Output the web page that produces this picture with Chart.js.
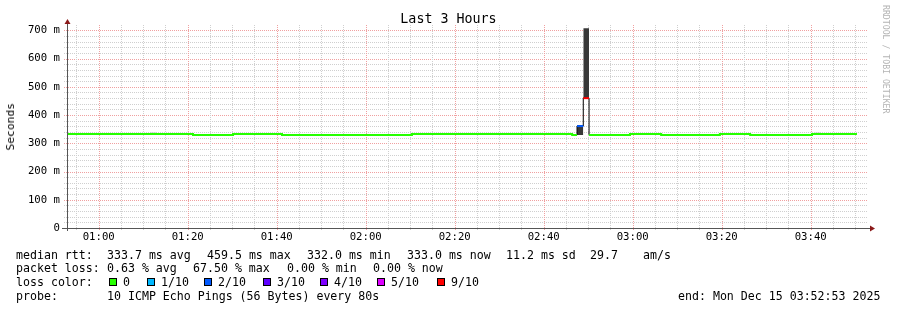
<!DOCTYPE html>
<html>
<head>
<meta charset="utf-8">
<script src="https://cdn.jsdelivr.net/npm/chart.js@4/dist/chart.umd.min.js"></script>
<style>
  body { margin: 0; background: #fff; }
  #wrap { position: relative; width: 897px; height: 310px; font-family: "DejaVu Sans Mono", monospace; color: #000; }
  #wrap div, #wrap span { position: absolute; white-space: pre; }
  .t { font-size: 11.6px; }
  .box { width: 8px; height: 8px; box-sizing: border-box; border: 1px solid #000; }
</style>
</head>
<body>
<div id="wrap">
  <canvas id="c" width="897" height="310"></canvas>
  <div style="left:0;width:897px;top:11px;text-align:center;font-size:13.33px;">Last 3 Hours</div>
  <div style="left:4px;top:103px;font-size:11.3px;writing-mode:vertical-rl;transform:rotate(180deg);">Seconds</div>
  <div style="left:881px;top:5px;font-size:8.2px;color:#b4b4b4;writing-mode:vertical-rl;">RRDTOOL / TOBI OETIKER</div>
</div>
<script>
// time in minutes after midnight, window 00:52:53 .. 03:52:53
const xMin = 52 + 53 / 60;
const xMax = xMin + 180;

const timeTicks = [60, 80, 100, 120, 140, 160, 180, 200, 220];
const timeLabels = ['01:00', '01:20', '01:40', '02:00', '02:20', '02:40', '03:00', '03:20', '03:40'];
const valueTicks = [0, 100, 200, 300, 400, 500, 600, 700];
const valueLabels = ['0', '100 m', '200 m', '300 m', '400 m', '500 m', '600 m', '700 m'];

// median rtt (ms) per segment, segment boundaries in minutes
const segTimes = [52.88, 81.2, 90.2, 101.2, 130.4, 166.4, 167.5, 168.9, 170.2, 179.4, 186.4, 199.6, 206.4, 220.3, 230.4];
const medianMs = [333, 329.5, 333, 329.5, 333, 329.5, 361, 460, 329.5, 333, 329.5, 333, 329.5, 333];
const lossOf10 = [0, 0, 0, 0, 0, 0, 2, 9, 0, 0, 0, 0, 0, 0];

// smoke (ping spread) blocks
const smokeFrom = [71.5, 167.5, 168.9, 221.0];
const smokeTo = [73.1, 168.9, 170.2, 222.3];
const smokeLow = [333, 329, 460, 333];
const smokeHigh = [338, 364, 708, 338];

const lossLevels = [0, 1, 2, 3, 4, 5, 9];
const lossNames = ['0', '1/10', '2/10', '3/10', '4/10', '5/10', '9/10'];

const rttStats = ['333.7 ms avg', '459.5 ms max', '332.0 ms min', '333.0 ms now', '11.2 ms sd', '29.7', 'am/s'];
const lossStats = ['0.63 % avg', '67.50 % max', '0.00 % min', '0.00 % now'];
const probeText = '10 ICMP Echo Pings (56 Bytes) every 80s';
const endText = 'end: Mon Dec 15 03:52:53 2025';

// styles
const lossColors = { 0: '#26ff00', 1: '#00b8ff', 2: '#0059ff', 3: '#5e00ff', 4: '#7e00ff', 5: '#dd00ff', 9: '#ff0000' };
const smokeColors = ['#c4c4c4', '#383838', '#383838', '#c4c4c4'];
const rttX = [107, 207, 307, 407, 506, 590, 643];
const lossX = [107, 193, 287, 373];
const boxX = [109, 147, 204, 263, 320, 377, 437];
const rowTop = [247.7, 261.2, 275.2, 288.5];

function stepPoints(keep) {
  const pts = [];
  for (let i = 0; i < medianMs.length; i++) {
    if (!keep(i)) continue;
    if (pts.length && !keep(i - 1)) pts.push({ x: segTimes[i] - 0.01, y: null });
    pts.push({ x: segTimes[i], y: medianMs[i] });
    if (i === medianMs.length - 1 || !keep(i + 1)) pts.push({ x: segTimes[i + 1], y: medianMs[i] });
  }
  return pts;
}

const datasets = [];
lossLevels.forEach(l => {
  if (!lossOf10.includes(l)) return;
  datasets.push({
    data: stepPoints(i => lossOf10[i] === l),
    borderColor: lossColors[l], borderWidth: 2, stepped: 'before',
    pointRadius: 0, fill: false, spanGaps: false, order: 0, borderCapStyle: 'butt'
  });
});
datasets.push({
  data: stepPoints(() => true),
  borderColor: '#000', borderWidth: 1, stepped: 'before',
  pointRadius: 0, fill: false, order: 1
});
smokeFrom.forEach((f, i) => {
  datasets.push({
    data: [{ x: f, y: smokeHigh[i] }, { x: smokeTo[i], y: smokeHigh[i] }],
    borderWidth: 0, pointRadius: 0, backgroundColor: smokeColors[i],
    fill: { value: smokeLow[i] }, order: 2
  });
});

const gridPlugin = {
  id: 'rrdgrid',
  beforeDatasetsDraw(chart) {
    const { ctx, chartArea: a, scales: { x, y } } = chart;
    ctx.save();
    ctx.lineWidth = 1;
    ctx.setLineDash([1, 1]);
    for (let v = 20; v <= 700; v += 20) {
      const py = Math.round(y.getPixelForValue(v)) + 0.5;
      ctx.strokeStyle = v % 100 === 0 ? '#f0a0a0' : '#cfcfcf';
      ctx.beginPath(); ctx.moveTo(a.left - 3, py); ctx.lineTo(a.right, py); ctx.stroke();
    }
    for (let m = Math.ceil(xMin / 5) * 5; m < xMax; m += 5) {
      const px = Math.round(x.getPixelForValue(m)) + 0.5;
      ctx.strokeStyle = m % 20 === 0 ? '#f0a0a0' : '#cfcfcf';
      ctx.beginPath(); ctx.moveTo(px, a.top - 2); ctx.lineTo(px, a.bottom + 2); ctx.stroke();
    }
    ctx.restore();
  },
  afterDatasetsDraw(chart) {
    const { ctx, chartArea: a } = chart;
    const lx = a.left + 0.5, by = a.bottom + 0.5;
    ctx.save();
    ctx.strokeStyle = '#555';
    ctx.lineWidth = 1;
    ctx.beginPath();
    ctx.moveTo(lx, a.bottom + 3); ctx.lineTo(lx, a.top - 3);
    ctx.moveTo(a.left - 5, by); ctx.lineTo(a.right + 2, by);
    ctx.stroke();
    ctx.fillStyle = '#8b1a1a';
    ctx.beginPath();
    ctx.moveTo(lx, a.top - 8); ctx.lineTo(lx - 3, a.top - 3); ctx.lineTo(lx + 3, a.top - 3); ctx.closePath(); ctx.fill();
    ctx.beginPath();
    ctx.moveTo(a.right + 7, by); ctx.lineTo(a.right + 2, by - 3); ctx.lineTo(a.right + 2, by + 3); ctx.closePath(); ctx.fill();
    ctx.restore();
  }
};

Chart.defaults.font.family = '"DejaVu Sans Mono", monospace';
Chart.defaults.font.size = 10.67;
Chart.defaults.color = '#000';

new Chart(document.getElementById('c'), {
  type: 'line',
  data: { datasets },
  options: {
    responsive: false,
    animation: false,
    devicePixelRatio: 1,
    layout: { padding: { left: 0, top: 27, right: 29, bottom: 0 } },
    plugins: { legend: { display: false }, tooltip: { enabled: false } },
    scales: {
      x: {
        type: 'linear', min: xMin, max: xMax,
        grid: { display: false, drawTicks: false },
        border: { display: false },
        afterBuildTicks: s => { s.ticks = timeTicks.map(v => ({ value: v })); },
        afterFit: s => { s.height = 82; },
        ticks: {
          autoSkip: false, maxRotation: 0, padding: 3,
          callback: v => timeLabels[timeTicks.indexOf(v)]
        }
      },
      y: {
        type: 'linear', min: 0, max: 712,
        grid: { display: false, drawTicks: false },
        border: { display: false },
        afterBuildTicks: s => { s.ticks = valueTicks.map(v => ({ value: v })); },
        afterFit: s => { s.width = 67; },
        ticks: {
          padding: 7,
          callback: v => valueLabels[valueTicks.indexOf(v)]
        }
      }
    }
  },
  plugins: [gridPlugin]
});

// legend text under the graph
const wrap = document.getElementById('wrap');
function put(text, x, top) {
  const d = document.createElement('div');
  d.className = 't';
  d.textContent = text;
  d.style.left = x + 'px';
  d.style.top = top + 'px';
  wrap.appendChild(d);
  return d;
}
put('median rtt:', 16, rowTop[0]);
rttStats.forEach((s, i) => put(s, rttX[i], rowTop[0]));
put('packet loss:', 16, rowTop[1]);
lossStats.forEach((s, i) => put(s, lossX[i], rowTop[1]));
put('loss color:', 16, rowTop[2]);
lossLevels.forEach((l, i) => {
  const b = document.createElement('span');
  b.className = 'box';
  b.style.left = boxX[i] + 'px';
  b.style.top = '278px';
  b.style.background = lossColors[l];
  wrap.appendChild(b);
  put(lossNames[i], boxX[i] + 14, rowTop[2]);
});
put('probe:', 16, rowTop[3]);
put(probeText, 107, rowTop[3]);
put(endText, 678, rowTop[3]);
</script>
</body>
</html>
